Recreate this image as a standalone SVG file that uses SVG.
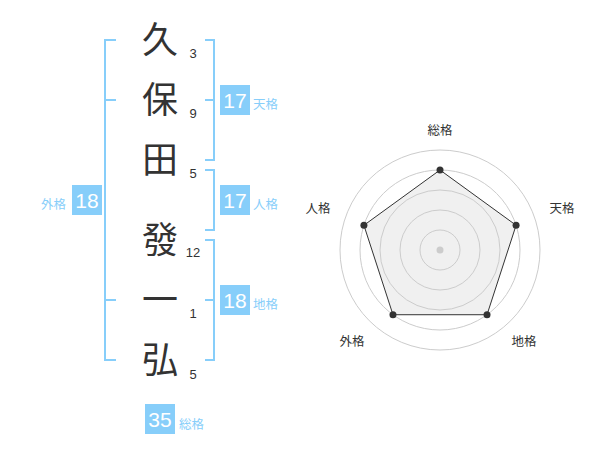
<svg xmlns="http://www.w3.org/2000/svg" width="600" height="470" viewBox="0 0 600 470">
<style>
text{font-family:"Liberation Sans","Noto Sans CJK JP",sans-serif}
.ch{font-size:36px;fill:#333;text-anchor:middle}
.num{font-size:13px;fill:#333;text-anchor:middle}
.br{fill:none;stroke:#87cefa;stroke-width:2}
.box{fill:#87cefa}
.bv{font-size:21px;fill:#fff;text-anchor:middle}
.bl{font-size:12.5px;fill:#87cefa}
.rl{font-size:12.5px;fill:#333;text-anchor:middle}
.ring{fill:none;stroke:#ccc;stroke-width:1}
.pt{fill:#333}
</style>
<rect width="600" height="470" fill="#fff"/>
<g id="name">
<text class="ch" x="160" y="53">久</text>
<text class="ch" x="160" y="113">保</text>
<text class="ch" x="160" y="173">田</text>
<text class="ch" x="160" y="253">發</text>
<text class="ch" x="160" y="313">一</text>
<text class="ch" x="160" y="373">弘</text>
<text class="num" x="193" y="57.5">3</text>
<text class="num" x="193" y="118">9</text>
<text class="num" x="193" y="177.5">5</text>
<text class="num" x="193" y="257">12</text>
<text class="num" x="193" y="318">1</text>
<text class="num" x="193" y="378.5">5</text>
</g>
<g id="connectors">
<path class="br" d="M116 40H105V360H116M105 100H116M105 300H116"/>
<path class="br" d="M205 40H214V160H205M205 100H214"/>
<path class="br" d="M205 170H214V230H205"/>
<path class="br" d="M205 240H214V360H205M205 300H214"/>
</g>
<g id="tenkaku">
<rect class="box" x="220" y="85" width="30" height="30"/>
<text class="bv" x="235" y="107.5">17</text>
<text class="bl" x="253" y="108.5">天格</text>
</g>
<g id="jinkaku">
<rect class="box" x="220" y="185" width="30" height="30"/>
<text class="bv" x="235" y="207.5">17</text>
<text class="bl" x="253" y="208.5">人格</text>
</g>
<g id="chikaku">
<rect class="box" x="220" y="285" width="30" height="30"/>
<text class="bv" x="235" y="307.5">18</text>
<text class="bl" x="253" y="308.5">地格</text>
</g>
<g id="gaikaku">
<rect class="box" x="72" y="185" width="30" height="30"/>
<text class="bv" x="87" y="207.5">18</text>
<text class="bl" x="41" y="208.5">外格</text>
</g>
<g id="soukaku">
<rect class="box" x="145" y="404" width="30" height="30"/>
<text class="bv" x="160" y="426.5">35</text>
<text class="bl" x="179" y="428.5">総格</text>
</g>
<g id="radar">
<polygon points="440,170 516.08,225.28 487.02,314.72 392.98,314.72 363.92,225.28" fill="#f0f0f0"/>
<circle class="ring" cx="440" cy="250" r="20"/>
<circle class="ring" cx="440" cy="250" r="40"/>
<circle class="ring" cx="440" cy="250" r="60"/>
<circle class="ring" cx="440" cy="250" r="80"/>
<circle class="ring" cx="440" cy="250" r="100"/>
<circle cx="440" cy="250" r="3.5" fill="#ccc"/>
<polygon points="440,170 516.08,225.28 487.02,314.72 392.98,314.72 363.92,225.28" fill="none" stroke="#333" stroke-width="1"/>
<circle class="pt" cx="440" cy="170" r="3.5"/>
<circle class="pt" cx="516.08" cy="225.28" r="3.5"/>
<circle class="pt" cx="487.02" cy="314.72" r="3.5"/>
<circle class="pt" cx="392.98" cy="314.72" r="3.5"/>
<circle class="pt" cx="363.92" cy="225.28" r="3.5"/>
<text class="rl" x="440" y="134.5">総格</text>
<text class="rl" x="562" y="213">天格</text>
<text class="rl" x="524" y="346">地格</text>
<text class="rl" x="352" y="346">外格</text>
<text class="rl" x="318" y="213">人格</text>
</g>
</svg>
